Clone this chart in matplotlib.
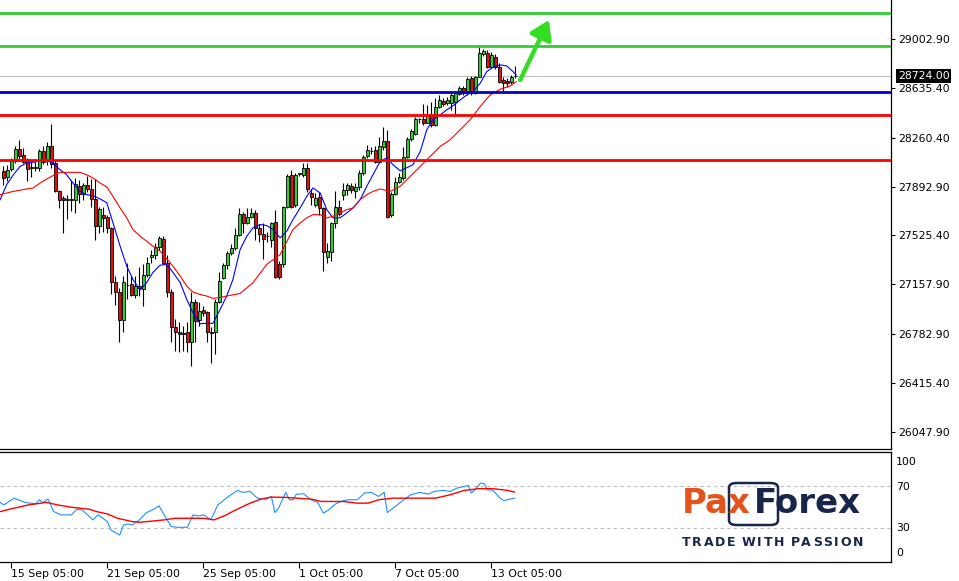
import matplotlib
matplotlib.use('Agg')
import matplotlib.pyplot as plt
import numpy as np
from matplotlib.patches import FancyBboxPatch
from matplotlib.transforms import blended_transform_factory

# ─── Data (4H candles) ──────────────────────────────────────────────────────
opens = [
    28007, 27965, 28025, 28082, 28175, 28132, 28082, 28035, 28035, 28033,
    28162, 28087, 28195, 28070, 27862, 27808, 27795, 27795, 27795, 27900,
    27840, 27907, 27875, 27802, 27600, 27682, 27667, 27578, 27172, 27097,
    26888, 27150, 27158, 27075, 27142, 27120, 27225, 27360, 27375, 27442,
    27502, 27322, 27097, 26835, 26797, 26790, 26797, 26722, 27022, 26888,
    26962, 26947, 26797, 26797, 27022, 27202, 27300, 27397, 27428, 27532,
    27690, 27622, 27667, 27697, 27585, 27540, 27518, 27488, 27630, 27308,
    27308, 27740, 27982, 27757, 27990, 27982, 28035, 27848, 27758, 27818,
    27735, 27360, 27398, 27622, 27742, 27832, 27870, 27900, 27862, 27892,
    27998, 28125, 28162, 28170, 28080, 28192, 28238, 27682, 27840, 27930,
    27960, 28118, 28252, 28290, 28400, 28402, 28372, 28425, 28358, 28492,
    28540, 28522, 28525, 28530, 28590, 28635, 28598, 28710, 28598, 28718,
    28890, 28898, 28792, 28868, 28792, 28695, 28688, 28680, 28722]
highs = [
    28045, 28058, 28108, 28195, 28245, 28183, 28108, 28082, 28082, 28175,
    28195, 28232, 28365, 28095, 27865, 27820, 27832, 27945, 27958, 27945,
    27920, 27970, 27952, 27952, 27742, 27742, 27682, 27592, 27218, 27128,
    27218, 27322, 27218, 27218, 27285, 27308, 27360, 27420, 27472, 27518,
    27525, 27382, 27120, 26895, 26872, 26842, 26872, 27098, 27045, 27022,
    26992, 26955, 26835, 27045, 27248, 27315, 27405, 27458, 27585, 27735,
    27705, 27735, 27735, 27720, 27608, 27622, 27548, 27630, 27720, 27330,
    27750, 27990, 28020, 27998, 27998, 28072, 28072, 27878, 27848, 27855,
    27742, 27472, 27630, 27862, 27795, 27922, 27922, 27922, 27922, 28020,
    28132, 28208, 28192, 28200, 28268, 28342, 28320, 27855, 27968, 27998,
    28192, 28268, 28328, 28418, 28410, 28515, 28508, 28530, 28560, 28582,
    28560, 28568, 28615, 28605, 28650, 28650, 28718, 28725, 28725, 28958,
    28928, 28920, 28905, 28890, 28822, 28718, 28710, 28732, 28800]
lows = [
    27908, 27932, 28007, 28070, 28082, 28070, 27932, 27965, 28007, 28007,
    28065, 28058, 28033, 27852, 27733, 27545, 27650, 27707, 27695, 27770,
    27795, 27850, 27742, 27495, 27547, 27555, 27547, 27082, 27000, 26722,
    26797, 27045, 27068, 27052, 27068, 26992, 27210, 27322, 27345, 27420,
    27308, 27060, 26722, 26655, 26648, 26655, 26648, 26542, 26722, 26842,
    26918, 26722, 26565, 26632, 27015, 27195, 27270, 27382, 27420, 27525,
    27547, 27608, 27660, 27495, 27480, 27345, 27480, 27442, 27202, 27195,
    27292, 27730, 27735, 27742, 27975, 27968, 27855, 27758, 27742, 27682,
    27255, 27322, 27330, 27585, 27675, 27795, 27832, 27848, 27810, 27870,
    27982, 28110, 28140, 28072, 28072, 28170, 27660, 27668, 27832, 27922,
    27945, 28110, 28238, 28282, 28372, 28358, 28372, 28342, 28350, 28485,
    28500, 28508, 28470, 28432, 28582, 28582, 28582, 28582, 28590, 28718,
    28875, 28785, 28785, 28778, 28672, 28598, 28642, 28665, 28710]
closes = [
    27958, 28020, 28082, 28175, 28125, 28078, 28027, 28037, 28040, 28162,
    28078, 28195, 28065, 27857, 27795, 27795, 27800, 27798, 27913, 27840,
    27907, 27875, 27802, 27600, 27728, 27660, 27578, 27172, 27097, 26888,
    27172, 27150, 27075, 27142, 27128, 27225, 27322, 27375, 27442, 27510,
    27322, 27097, 26835, 26797, 26782, 26785, 26722, 27022, 26880, 26955,
    26940, 26797, 26795, 27022, 27180, 27300, 27397, 27435, 27532, 27690,
    27622, 27667, 27697, 27585, 27540, 27502, 27520, 27622, 27210, 27210,
    27742, 27972, 27742, 27982, 27992, 28035, 27878, 27818, 27810, 27735,
    27398, 27405, 27622, 27742, 27690, 27870, 27908, 27870, 27892, 27998,
    28118, 28170, 28164, 28080, 28200, 28238, 27668, 27840, 27930, 27968,
    28118, 28252, 28312, 28402, 28402, 28372, 28425, 28358, 28492, 28545,
    28515, 28545, 28582, 28598, 28635, 28598, 28702, 28598, 28718, 28898,
    28912, 28792, 28882, 28792, 28680, 28672, 28672, 28718, 28724]

# moving averages (blue fast, red slow), sampled at bar positions
fast_k = [-0.8, 0.85, 2.5, 4.2, 5.85, 7.4, 9.2, 10.85, 12.4, 14.2, 15.85, 17.4,
          19.2, 20.85, 22.4, 24.2, 25.85, 27.4, 29.2, 30.85, 32.4, 34.2, 35.85,
          37.4, 39.2, 40.85, 42.4, 44.2, 45.85, 47.4, 49.2, 50.85, 52.4, 54.2,
          55.85, 57.4, 59.2, 60.85, 62.4, 64.2, 65.85, 67.4, 69.2, 70.85, 72.4,
          74.2, 75.85, 77.4, 79.2, 80.85, 82.4, 84.2, 85.85, 87.4, 89.2, 90.85,
          92.4, 94.2, 95.85, 97.4, 99.2, 100.85, 102.4, 104.2, 105.85, 107.4,
          109.2, 110.85, 112.4, 114.2, 115.85, 117.4, 119.2, 120.85, 122.4,
          124.2, 125.85, 127.4, 128.2]
fast_v = [27795, 27908, 27982, 28045, 28070, 28075, 28090, 28088, 28070, 28020,
          27982, 27920, 27857, 27832, 27825, 27800, 27772, 27622, 27445, 27295,
          27195, 27115, 27172, 27248, 27302, 27308, 27248, 27172, 27045, 26945,
          26862, 26865, 26865, 26970, 27070, 27195, 27420, 27520, 27582, 27608,
          27600, 27570, 27508, 27558, 27645, 27732, 27820, 27883, 27845, 27720,
          27658, 27658, 27695, 27732, 27795, 27895, 27982, 28082, 28108, 28058,
          28012, 28035, 28058, 28155, 28320, 28395, 28432, 28470, 28500, 28545,
          28582, 28607, 28670, 28758, 28790, 28808, 28800, 28758, 28732]
slow_k = [-0.8, 2.5, 5.85, 7.4, 9.2, 10.85, 12.4, 14.2, 15.85, 19.2, 20.85, 22.4,
          24.2, 25.85, 27.4, 29.2, 30.85, 32.4, 34.2, 35.85, 37.4, 39.2, 40.85,
          42.4, 44.2, 45.85, 47.4, 49.2, 50.85, 52.4, 54.2, 55.85, 59.2, 62.4,
          65.85, 69.2, 72.4, 74.2, 75.85, 77.4, 79.2, 80.85, 82.4, 84.2, 85.85,
          87.4, 89.2, 90.85, 92.4, 94.2, 96.7, 99.2, 101.7, 104.2, 106.7, 109.2,
          111.7, 114.2, 116.7, 119.2, 121.7, 124.2, 126.7, 128.2]
slow_v = [27832, 27857, 27875, 27882, 27920, 27950, 27975, 28000, 28000, 28000,
          27982, 27958, 27920, 27890, 27820, 27732, 27658, 27570, 27520, 27482,
          27445, 27408, 27350, 27295, 27220, 27145, 27100, 27082, 27070, 27052,
          27060, 27070, 27090, 27170, 27308, 27382, 27570, 27620, 27658, 27682,
          27682, 27658, 27670, 27695, 27720, 27732, 27795, 27832, 27857, 27875,
          27857, 27895, 27970, 28045, 28120, 28195, 28245, 28320, 28395, 28495,
          28582, 28625, 28650, 28682]

# oscillator panel (blue RSI, red signal)
rsi_k = [-0.8, 0.1, 2.7, 5.4, 8.1, 9.0, 9.9, 11.2, 12.6, 14.4, 17.0, 18.4, 19.7,
         22.4, 23.7, 26.0, 26.9, 29.1, 30.0, 31.3, 32.2, 34.0, 35.8, 37.6, 38.9,
         40.2, 42.0, 43.8, 46.0, 47.4, 48.7, 50.1, 51.9, 53.6, 56.3, 58.6, 59.9,
         61.7, 63.5, 65.7, 67.0, 67.9, 68.8, 70.6, 71.5, 72.4, 73.3, 75.1, 76.9,
         78.6, 80.0, 81.3, 83.1, 84.9, 86.2, 88.5, 90.3, 92.0, 93.8, 95.2, 96.0,
         97.4, 100.1, 101.9, 104.1, 106.3, 107.7, 109.9, 111.7, 113.5, 115.3,
         116.2, 117.0, 117.9, 119.3, 120.2, 121.0, 122.4, 124.2, 125.1, 126.0,
         127.8]
rsi_v = [54.3, 52.0, 58.3, 54.3, 53.0, 56.8, 54.3, 57.4, 45.7, 42.6, 42.6, 47.9,
         47.3, 37.9, 42.6, 36.3, 28.4, 23.7, 33.1, 34.1, 33.1, 37.9, 44.8, 47.9,
         51.1, 42.6, 31.6, 30.9, 30.9, 42.6, 41.6, 42.6, 37.9, 52.0, 59.9, 65.6,
         63.7, 64.6, 58.3, 57.4, 59.9, 44.8, 48.9, 63.7, 56.8, 56.8, 62.1, 62.4,
         56.8, 54.3, 44.2, 47.3, 53.0, 55.8, 56.8, 56.8, 63.1, 63.7, 59.9, 63.7,
         44.8, 48.9, 56.8, 61.5, 63.7, 62.1, 64.6, 65.6, 64.6, 67.8, 69.4, 70.3,
         63.1, 66.2, 72.5, 71.9, 66.2, 65.6, 58.3, 56.1, 56.8, 58.3]
sig_k = [-0.8, 2.7, 6.3, 10.8, 13.5, 17.0, 21.5, 23.3, 26.0, 28.6, 32.2, 34.0,
         36.7, 40.2, 42.9, 46.5, 50.1, 52.7, 55.4, 58.1, 61.7, 64.4, 67.0, 70.6,
         73.3, 76.9, 79.5, 84.9, 88.5, 91.2, 93.8, 97.4, 106.3, 108.1, 111.7,
         115.3, 118.8, 122.4, 126.0, 127.8]
sig_v = [45.7, 48.9, 52.0, 54.3, 52.0, 49.8, 47.9, 45.7, 43.5, 39.4, 36.3, 35.7,
         36.6, 37.9, 39.4, 39.4, 39.4, 37.9, 42.0, 47.3, 53.6, 57.4, 59.3, 59.0,
         58.3, 57.4, 55.2, 55.2, 53.6, 53.6, 56.8, 58.3, 58.3, 58.3, 61.5, 65.6,
         67.2, 67.2, 65.6, 64.0]

# horizontal levels
level_vals = [29198, 28950, 28604, 28431, 28093]
level_colors = ['#33CC33', '#33CC33', '#0000CC', '#FF0000', '#FF0000']
current_price = 28724.00

price_ticks = [29002.90, 28635.40, 28260.40, 27892.90, 27525.40,
               27157.90, 26782.90, 26415.40, 26047.90]
date_idx = [2, 26, 50, 74, 98, 122]
date_labels = ['15 Sep 05:00', '21 Sep 05:00', '25 Sep 05:00',
               '1 Oct 05:00', '7 Oct 05:00', '13 Oct 05:00']
osc_labels = ['100', '70', '30', '0']
osc_label_pos = [92.3, 69.0, 30.3, 6.8]

BULL = '#32CD32'
BEAR = '#E01010'
ORANGE = '#E4531D'
NAVY = '#17264A'

W, H = 959, 581
fig = plt.figure(figsize=(W / 100, H / 100), dpi=100)
fig.patch.set_facecolor('white')
ax = fig.add_axes([0, 132 / H, 891 / W, 449 / H])
ax2 = fig.add_axes([0, 19 / H, 891 / W, 110 / H])
XLIM = (-0.83, 221.9)

# ─── Candles ────────────────────────────────────────────────────────────────
o = np.array(opens, float)
hi = np.array(highs, float)
lo = np.array(lows, float)
c = np.array(closes, float)
idx = np.arange(len(o))
cols = np.where(c >= o, BULL, BEAR)
ax.vlines(idx, lo, hi, color='black', lw=0.8, zorder=2)
ax.bar(idx, np.abs(c - o), bottom=np.minimum(o, c), width=0.7, color=cols,
       edgecolor='black', linewidth=0.6, zorder=3)

ax.plot(fast_k, fast_v, color='#0000FF', lw=0.8, zorder=4)
ax.plot(slow_k, slow_v, color='#FF0000', lw=0.8, zorder=4)

ax.axhline(current_price, color='#C0C0C0', lw=0.8, zorder=1)
for lvl, col in zip(level_vals, level_colors):
    ax.axhline(lvl, color=col, lw=2.0, zorder=5)

# arrow
ax.annotate('', xy=(136.4, 29146), xytext=(129.2, 28695),
            arrowprops=dict(arrowstyle='-|>,head_length=0.55,head_width=0.35',
                            color='#33DD22', lw=3.2, mutation_scale=20,
                            shrinkA=0, shrinkB=0), zorder=6)

ax.set_xlim(*XLIM)
ax.set_ylim(25920, 29296)
for s in ['top', 'left']:
    ax.spines[s].set_visible(False)
ax.spines['right'].set_linewidth(0.9)
ax.spines['bottom'].set_linewidth(0.9)
ax.set_xticks([])
ax.yaxis.tick_right()
ax.set_yticks(price_ticks)
ax.set_yticklabels([f'{v:.2f}' for v in price_ticks])
ax.tick_params(axis='y', length=3, width=0.8, pad=2, labelsize=7.8)

tr = blended_transform_factory(ax.transAxes, ax.transData)
ax.text(1.0 + 7 / 891, current_price, f'{current_price:.2f}', transform=tr,
        ha='left', va='center', fontsize=7.8, color='white', zorder=7,
        bbox=dict(facecolor='black', edgecolor='none', pad=1.2))

# ─── Oscillator panel ───────────────────────────────────────────────────────
ax2.plot(rsi_k, rsi_v, color='#1E90FF', lw=0.8)
ax2.plot(sig_k, sig_v, color='#FF0000', lw=1.0)
for lv in (70, 30):
    ax2.axhline(lv, color='#BBBBBB', lw=0.8, ls=(0, (3, 3)), zorder=0)
ax2.set_xlim(*XLIM)
ax2.set_ylim(-1.6, 101.6)
ax2.spines['left'].set_visible(False)
for s in ['top', 'right', 'bottom']:
    ax2.spines[s].set_linewidth(0.9)
ax2.set_yticks([])
ax2.set_xticks(date_idx)
ax2.set_xticklabels(date_labels)
for lbl in ax2.get_xticklabels():
    lbl.set_horizontalalignment('left')
ax2.tick_params(axis='x', length=4, width=0.8, pad=1, labelsize=7.8)
tr2 = blended_transform_factory(ax2.transAxes, ax2.transData)
for txt, pos in zip(osc_labels, osc_label_pos):
    ax2.text(1.0 + 5 / 891, pos, txt, transform=tr2, ha='left', va='center',
             fontsize=7.8, color='black')

# ─── Logo ───────────────────────────────────────────────────────────────────
box = FancyBboxPatch((729 / W, 1 - 525 / H), 49 / W, 42 / H,
                     boxstyle='round,pad=0,rounding_size=0.008',
                     transform=fig.transFigure, facecolor='none',
                     edgecolor=NAVY, linewidth=1.8, zorder=1)
fig.patches.append(box)
t1 = fig.text(682 / W, 1 - 513 / H, 'Pax', color=ORANGE, fontsize=24.5,
              fontweight='bold', va='baseline', ha='left')
fig.canvas.draw()
bb = t1.get_window_extent()
fig.text((bb.x1 + 3) / W, 1 - 513 / H, 'Forex', color=NAVY, fontsize=24.5,
         fontweight='bold', va='baseline', ha='left')

# tagline: letters laid out with even tracking over 682..862 px
tagline = 'TRADE WITH PASSION'
renderer = fig.canvas.get_renderer()
chars = [fig.text(0, 1 - 542 / H, ch, color=NAVY, fontsize=9.0,
                  fontweight='bold', ha='left', va='center') for ch in tagline]
widths = [t.get_window_extent(renderer).width if ch != ' ' else 3.0
          for t, ch in zip(chars, tagline)]
gap = (863 - 682 - sum(widths)) / (len(tagline) - 1)
xpos = 682.0
for t, w in zip(chars, widths):
    t.set_x(xpos / W)
    xpos += w + gap

fig.savefig('out.png', dpi=100)
